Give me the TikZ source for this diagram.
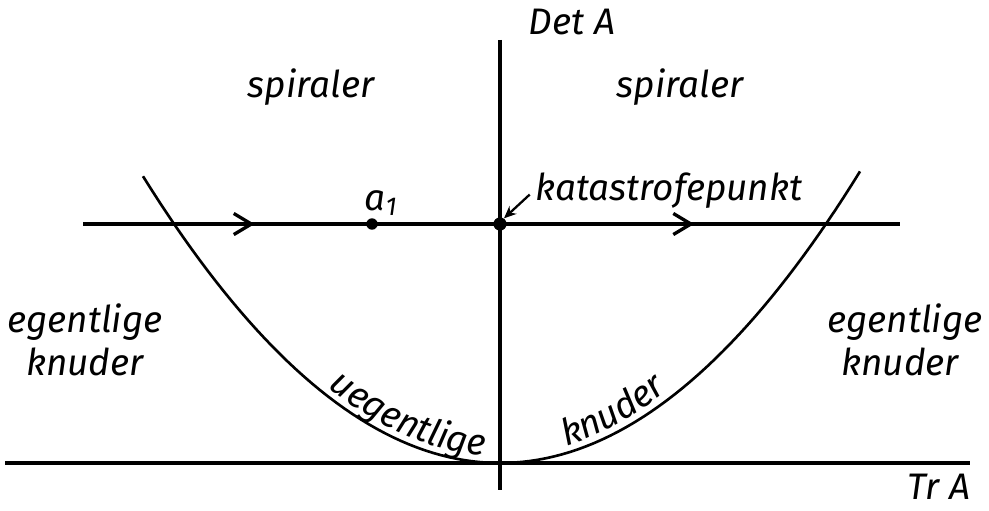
\documentclass[tikz,border=0pt]{standalone}
\usepackage{fontspec}
\setmainfont{Fira Sans}
\usetikzlibrary{arrows.meta,decorations.text,decorations.markings}
\newcommand{\handfont}{\fontsize{21}{24}\selectfont\itshape}

\begin{document}
\begin{tikzpicture}[
  x=0.02cm, y=-0.02cm,
  axis/.style={line width=1.9pt},
  curve/.style={line width=1.5pt},
  hand/.style={font=\handfont, inner sep=0pt},
  dot/.style={circle, fill, inner sep=0pt, minimum size=6.5pt},
  flow/.style={line width=1.9pt, postaction={decorate},
    decoration={markings,
      mark=at position 0.21 with {\arrow{Straight Barb[length=10pt,width=12pt,line width=1.9pt]}},
      mark=at position 0.748 with {\arrow{Straight Barb[length=10pt,width=12pt,line width=1.9pt]}}}},
  pointer/.style={-{Stealth[length=7pt,width=6pt]}, line width=1.3pt}
]
  \useasboundingbox (0,0) rectangle (989,510);

  % axes
  \coordinate (xstart) at (5,463);
  \coordinate (xend) at (970,463);
  \coordinate (ytop) at (500,40);
  \coordinate (ybot) at (500,490);
  \draw[axis] (xstart) -- (xend);
  \draw[axis] (ytop) -- (ybot);
  \node[hand] (det) at (572,22) {Det A};
  \node[hand] (tr) at (939,487) {Tr A};

  % parabola Det = Tr^2/4
  \draw[curve] plot[domain=143:860, samples=90] (\x,{463-22.5*((\x-500)/100)^2});

  % path through the bifurcation
  \coordinate (lstart) at (83,224);
  \coordinate (lend) at (900,224);
  \draw[flow] (lstart) -- (lend);
  \node[dot] (a1) at (372,224) {};
  \node[dot, minimum size=7.5pt] (kp) at (500,224) {};
  \node[hand] (a1lbl) at (381,203) {a\textsubscript{1}};
  \node[hand, anchor=west] (kat) at (535,191) {katastrofepunkt};
  \draw[pointer] ([xshift=-3pt,yshift=-2pt]kat.west) -- (kp.55);

  % regions
  \node[hand] (spl) at (311,87) {spiraler};
  \node[hand] (spr) at (680,87) {spiraler};
  \node[hand] (egl) at (85,322) {egentlige};
  \node[hand] (knl) at (85,362) {knuder};
  \node[hand] (egr) at (905,322) {egentlige};
  \node[hand] (knr) at (900,362) {knuder};

  % labels along the parabola
  \path[decorate, decoration={text along path, text={|\handfont|uegentlige},
      raise=4pt, text align=center}]
    plot[domain=312:498, samples=40] (\x,{463-22.5*((\x-500)/100)^2});
  \path[decorate, decoration={text along path, text={|\handfont|knuder},
      raise=4pt, text align=center}]
    plot[domain=525:705, samples=40] (\x,{463-22.5*((\x-500)/100)^2});
\end{tikzpicture}
\end{document}
